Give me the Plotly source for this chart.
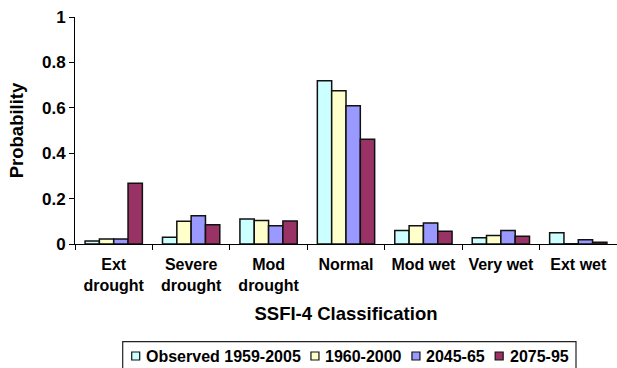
import plotly.graph_objects as go

categories = ["Ext<br>drought", "Severe<br>drought", "Mod<br>drought", "Normal",
              "Mod wet", "Very wet", "Ext wet"]

observed_1959_2005 = [0.013, 0.030, 0.110, 0.719, 0.060, 0.028, 0.050]
sim_1960_2000 = [0.022, 0.100, 0.103, 0.675, 0.080, 0.037, 0.001]
sim_2045_65 = [0.022, 0.124, 0.080, 0.609, 0.093, 0.060, 0.019]
sim_2075_95 = [0.268, 0.085, 0.101, 0.462, 0.056, 0.034, 0.008]

series_names = ["Observed 1959-2005", "1960-2000", "2045-65", "2075-95"]
series_values = [observed_1959_2005, sim_1960_2000, sim_2045_65, sim_2075_95]
series_colors = ["#CCFFFF", "#FFFFCC", "#9999FF", "#993366"]

y_ticks = [0, 0.2, 0.4, 0.6, 0.8, 1]

FONT = "Arial, Liberation Sans, sans-serif"
W, H = 617, 368
ML, MR, MT, MB = 75, 0, 17, 124
PW, PH = W - ML - MR, H - MT - MB


def px_x(x):
    """Pixel column -> paper x."""
    return (x - ML) / PW


def px_y(y):
    """Pixel row (from top) -> paper y."""
    return (H - MB - y) / PH


# Arial Bold advance widths (em) for the legend strings
_ADV = {c: 0.556 for c in "0123456789"}
_ADV.update({"-": 0.333, " ": 0.278, "O": 0.778, "b": 0.611, "s": 0.556,
             "e": 0.556, "r": 0.389, "v": 0.556, "d": 0.611})


def text_width(s, size):
    return sum(_ADV.get(c, 0.6) for c in s) * size


fig = go.Figure()
for name, vals, color in zip(series_names, series_values, series_colors):
    fig.add_trace(go.Bar(
        x=categories, y=vals, name=name, showlegend=False,
        marker=dict(color=color, line=dict(color="#111111", width=1.5)),
    ))

# Boxed single-row key under the axis title
LEG_SIZE = 16
leg_left, leg_right, leg_top, leg_bottom = 122.7, 576, 341.7, 372
row_y = 356
shapes = [dict(type="rect", xref="paper", yref="paper",
               x0=px_x(leg_left), x1=px_x(leg_right),
               y0=px_y(leg_bottom), y1=px_y(leg_top),
               line=dict(color="#222222", width=1.2), fillcolor="white",
               layer="below")]
annotations = []
x = 131.7
for name, color in zip(series_names, series_colors):
    shapes.append(dict(type="rect", xref="paper", yref="paper",
                       x0=px_x(x), x1=px_x(x + 8),
                       y0=px_y(row_y + 4), y1=px_y(row_y - 4),
                       line=dict(color="#111111", width=1.2), fillcolor=color))
    tx = x + 12.5
    annotations.append(dict(xref="paper", yref="paper", x=px_x(tx), y=px_y(row_y),
                            xanchor="left", yanchor="middle", showarrow=False,
                            text=name,
                            font=dict(family=FONT, size=LEG_SIZE, weight="bold",
                                      color="black")))
    x = tx + 1 + text_width(name, LEG_SIZE) + 11

fig.update_layout(
    width=W, height=H,
    margin=dict(l=ML, r=MR, t=MT, b=MB, autoexpand=False),
    paper_bgcolor="white", plot_bgcolor="white",
    barmode="group", bargap=0.26, bargroupgap=0,
    font=dict(family=FONT, color="black"),
    showlegend=False,
    shapes=shapes, annotations=annotations,
)

fig.update_xaxes(
    automargin=False,
    showline=True, linecolor="black", linewidth=1,
    ticks="outside", tickson="boundaries", ticklen=5, tickcolor="black",
    ticklabelstandoff=6,
    tickfont=dict(family=FONT, size=16, weight="bold", color="black"),
    title=dict(text="SSFI-4 Classification", standoff=14,
               font=dict(family=FONT, size=18.5, weight="bold", color="black")),
    showgrid=False,
)
fig.update_yaxes(
    automargin=False,
    range=[0, 1], tickvals=y_ticks,
    showline=True, linecolor="black", linewidth=1,
    ticks="outside", ticklen=5, tickcolor="black",
    tickfont=dict(family=FONT, size=17, weight="bold", color="black"),
    title=dict(text="Probability", standoff=13,
               font=dict(family=FONT, size=18.5, weight="bold", color="black")),
    showgrid=False, zeroline=False,
)

fig.write_html("out.html")
